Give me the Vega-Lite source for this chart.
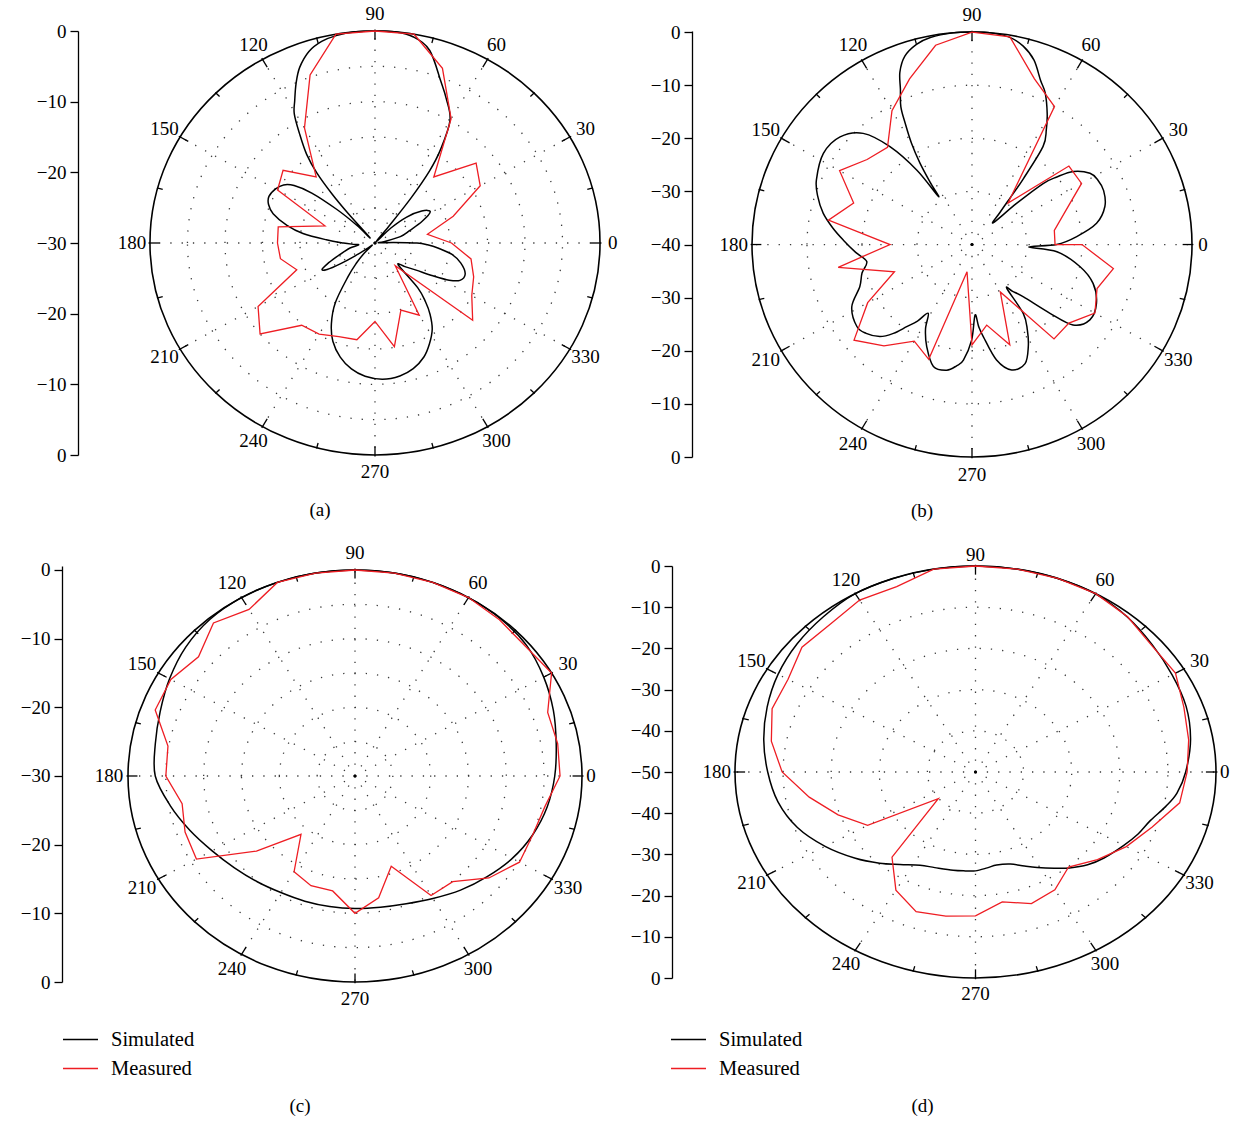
{
"$schema": "https://vega.github.io/schema/vega-lite/v6.json",
"background": "white",
"padding": {"left": 20, "top": 5, "right": 2, "bottom": 5},
"datasets": {
"spokes": [{"ang":0},{"ang":30},{"ang":60},{"ang":90},{"ang":120},{"ang":150},{"ang":180},{"ang":210},{"ang":240},{"ang":270},{"ang":300},{"ang":330}],
"minor": [{"ang":15},{"ang":45},{"ang":75},{"ang":105},{"ang":135},{"ang":165},{"ang":195},{"ang":225},{"ang":255},{"ang":285},{"ang":315},{"ang":345}],
"rings": [{"p":"a","lvl":0},{"p":"a","lvl":-5},{"p":"a","lvl":-10},{"p":"a","lvl":-15},{"p":"a","lvl":-20},{"p":"a","lvl":-25},
{"p":"b","lvl":0},{"p":"b","lvl":-10},{"p":"b","lvl":-20},{"p":"b","lvl":-30},
{"p":"c","lvl":0},{"p":"c","lvl":-5},{"p":"c","lvl":-10},{"p":"c","lvl":-15},{"p":"c","lvl":-20},{"p":"c","lvl":-25},
{"p":"d","lvl":0},{"p":"d","lvl":-10},{"p":"d","lvl":-20},{"p":"d","lvl":-30},{"p":"d","lvl":-40}],
"curves": [
{"p":"a","s":"Simulated","ang":0,"db":-24.4},{"p":"a","s":"Simulated","ang":2,"db":-27.5},{"p":"a","s":"Simulated","ang":4,"db":-29.5},{"p":"a","s":"Simulated","ang":9,"db":-28.8},{"p":"a","s":"Simulated","ang":15,"db":-26.5},{"p":"a","s":"Simulated","ang":21,"db":-25},{"p":"a","s":"Simulated","ang":26,"db":-23},{"p":"a","s":"Simulated","ang":31,"db":-21.4},{"p":"a","s":"Simulated","ang":36,"db":-22.3},{"p":"a","s":"Simulated","ang":41,"db":-24.4},{"p":"a","s":"Simulated","ang":45,"db":-27},{"p":"a","s":"Simulated","ang":49,"db":-29.8},{"p":"a","s":"Simulated","ang":52,"db":-27},{"p":"a","s":"Simulated","ang":53,"db":-22},{"p":"a","s":"Simulated","ang":54.5,"db":-17.5},{"p":"a","s":"Simulated","ang":56.5,"db":-14.2},{"p":"a","s":"Simulated","ang":60,"db":-10},{"p":"a","s":"Simulated","ang":65,"db":-7.5},{"p":"a","s":"Simulated","ang":69,"db":-5.5},{"p":"a","s":"Simulated","ang":75,"db":-1.8},{"p":"a","s":"Simulated","ang":80,"db":-0.4},{"p":"a","s":"Simulated","ang":85,"db":0},{"p":"a","s":"Simulated","ang":90,"db":0},{"p":"a","s":"Simulated","ang":95,"db":0},{"p":"a","s":"Simulated","ang":100,"db":-0.2},{"p":"a","s":"Simulated","ang":104,"db":-0.6},{"p":"a","s":"Simulated","ang":108,"db":-1.5},{"p":"a","s":"Simulated","ang":112,"db":-3.2},{"p":"a","s":"Simulated","ang":115,"db":-5.1},{"p":"a","s":"Simulated","ang":118,"db":-7.2},{"p":"a","s":"Simulated","ang":120.5,"db":-8.8},{"p":"a","s":"Simulated","ang":123,"db":-11.5},{"p":"a","s":"Simulated","ang":126,"db":-14.5},{"p":"a","s":"Simulated","ang":128,"db":-17.4},{"p":"a","s":"Simulated","ang":129.5,"db":-21},{"p":"a","s":"Simulated","ang":130.5,"db":-24.5},{"p":"a","s":"Simulated","ang":132,"db":-29},{"p":"a","s":"Simulated","ang":134,"db":-26.5},{"p":"a","s":"Simulated","ang":137,"db":-23},{"p":"a","s":"Simulated","ang":140,"db":-19},{"p":"a","s":"Simulated","ang":143,"db":-16.5},{"p":"a","s":"Simulated","ang":146,"db":-15.3},{"p":"a","s":"Simulated","ang":150,"db":-14.7},{"p":"a","s":"Simulated","ang":155,"db":-14.4},{"p":"a","s":"Simulated","ang":159,"db":-14.8},{"p":"a","s":"Simulated","ang":163,"db":-15.8},{"p":"a","s":"Simulated","ang":168,"db":-18},{"p":"a","s":"Simulated","ang":172,"db":-20.3},{"p":"a","s":"Simulated","ang":176,"db":-23.5},{"p":"a","s":"Simulated","ang":180,"db":-25.8},{"p":"a","s":"Simulated","ang":184,"db":-27.2},{"p":"a","s":"Simulated","ang":187,"db":-27.8},{"p":"a","s":"Simulated","ang":192,"db":-26.6},{"p":"a","s":"Simulated","ang":197,"db":-25.6},{"p":"a","s":"Simulated","ang":201,"db":-24.5},{"p":"a","s":"Simulated","ang":205,"db":-23},{"p":"a","s":"Simulated","ang":208,"db":-22},{"p":"a","s":"Simulated","ang":210.5,"db":-22.6},{"p":"a","s":"Simulated","ang":212.5,"db":-24.5},{"p":"a","s":"Simulated","ang":214.5,"db":-26.8},{"p":"a","s":"Simulated","ang":217,"db":-28.8},{"p":"a","s":"Simulated","ang":221,"db":-29.5},{"p":"a","s":"Simulated","ang":225,"db":-28},{"p":"a","s":"Simulated","ang":229,"db":-26.2},{"p":"a","s":"Simulated","ang":233,"db":-24},{"p":"a","s":"Simulated","ang":238,"db":-20},{"p":"a","s":"Simulated","ang":243,"db":-17.2},{"p":"a","s":"Simulated","ang":248,"db":-15},{"p":"a","s":"Simulated","ang":254,"db":-13.2},{"p":"a","s":"Simulated","ang":260,"db":-11.9},{"p":"a","s":"Simulated","ang":266,"db":-11.1},{"p":"a","s":"Simulated","ang":273,"db":-10.7},{"p":"a","s":"Simulated","ang":280,"db":-10.9},{"p":"a","s":"Simulated","ang":286,"db":-11.5},{"p":"a","s":"Simulated","ang":292,"db":-12.6},{"p":"a","s":"Simulated","ang":297,"db":-14},{"p":"a","s":"Simulated","ang":302,"db":-15.6},{"p":"a","s":"Simulated","ang":306,"db":-17.5},{"p":"a","s":"Simulated","ang":309,"db":-19.3},{"p":"a","s":"Simulated","ang":312,"db":-21.5},{"p":"a","s":"Simulated","ang":315,"db":-25.6},{"p":"a","s":"Simulated","ang":320,"db":-24.8},{"p":"a","s":"Simulated","ang":325,"db":-23.3},{"p":"a","s":"Simulated","ang":329,"db":-21},{"p":"a","s":"Simulated","ang":332,"db":-18.8},{"p":"a","s":"Simulated","ang":335,"db":-17.5},{"p":"a","s":"Simulated","ang":340,"db":-17.2},{"p":"a","s":"Simulated","ang":346,"db":-18.2},{"p":"a","s":"Simulated","ang":351,"db":-19.6},{"p":"a","s":"Simulated","ang":355,"db":-21.5},{"p":"a","s":"Simulated","ang":358,"db":-23},
{"p":"a","s":"Measured","ang":0,"db":-19.8},{"p":"a","s":"Measured","ang":10,"db":-22.9},{"p":"a","s":"Measured","ang":20,"db":-18.9},{"p":"a","s":"Measured","ang":30,"db":-13.8},{"p":"a","s":"Measured","ang":40,"db":-12.4},{"p":"a","s":"Measured","ang":50,"db":-17.8},{"p":"a","s":"Measured","ang":60,"db":-9.7},{"p":"a","s":"Measured","ang":70,"db":-3.7},{"p":"a","s":"Measured","ang":80,"db":0},{"p":"a","s":"Measured","ang":90,"db":0},{"p":"a","s":"Measured","ang":100,"db":0},{"p":"a","s":"Measured","ang":110,"db":-4.7},{"p":"a","s":"Measured","ang":120,"db":-11.2},{"p":"a","s":"Measured","ang":130,"db":-17.8},{"p":"a","s":"Measured","ang":140,"db":-14},{"p":"a","s":"Measured","ang":150,"db":-15},{"p":"a","s":"Measured","ang":160,"db":-22.9},{"p":"a","s":"Measured","ang":170,"db":-16.9},{"p":"a","s":"Measured","ang":180,"db":-17},{"p":"a","s":"Measured","ang":190,"db":-17.2},{"p":"a","s":"Measured","ang":200,"db":-18.9},{"p":"a","s":"Measured","ang":210,"db":-12},{"p":"a","s":"Measured","ang":220,"db":-10},{"p":"a","s":"Measured","ang":230,"db":-14.8},{"p":"a","s":"Measured","ang":240,"db":-15.1},{"p":"a","s":"Measured","ang":250,"db":-15.9},{"p":"a","s":"Measured","ang":260,"db":-16.1},{"p":"a","s":"Measured","ang":270,"db":-18.9},{"p":"a","s":"Measured","ang":280,"db":-15.1},{"p":"a","s":"Measured","ang":290,"db":-19.9},{"p":"a","s":"Measured","ang":300,"db":-18.2},{"p":"a","s":"Measured","ang":310,"db":-25.8},{"p":"a","s":"Measured","ang":320,"db":-13},{"p":"a","s":"Measured","ang":330,"db":-15.1},{"p":"a","s":"Measured","ang":340,"db":-16},{"p":"a","s":"Measured","ang":350,"db":-17},
{"p":"b","s":"Simulated","ang":0,"db":-24.6},{"p":"b","s":"Simulated","ang":4.5,"db":-20.9},{"p":"b","s":"Simulated","ang":10,"db":-17},{"p":"b","s":"Simulated","ang":16.5,"db":-14.8},{"p":"b","s":"Simulated","ang":23,"db":-14},{"p":"b","s":"Simulated","ang":28,"db":-14.1},{"p":"b","s":"Simulated","ang":32,"db":-14.7},{"p":"b","s":"Simulated","ang":36.7,"db":-17},{"p":"b","s":"Simulated","ang":39.5,"db":-20},{"p":"b","s":"Simulated","ang":41.6,"db":-22.7},{"p":"b","s":"Simulated","ang":43.7,"db":-28.8},{"p":"b","s":"Simulated","ang":46.7,"db":-34.4},{"p":"b","s":"Simulated","ang":50,"db":-32},{"p":"b","s":"Simulated","ang":52,"db":-28},{"p":"b","s":"Simulated","ang":53,"db":-24.5},{"p":"b","s":"Simulated","ang":55,"db":-17.5},{"p":"b","s":"Simulated","ang":58,"db":-14.5},{"p":"b","s":"Simulated","ang":61,"db":-11.8},{"p":"b","s":"Simulated","ang":65,"db":-8.5},{"p":"b","s":"Simulated","ang":68,"db":-6.7},{"p":"b","s":"Simulated","ang":72,"db":-3.5},{"p":"b","s":"Simulated","ang":76,"db":-1.5},{"p":"b","s":"Simulated","ang":80,"db":-0.4},{"p":"b","s":"Simulated","ang":85,"db":0},{"p":"b","s":"Simulated","ang":90,"db":0},{"p":"b","s":"Simulated","ang":95,"db":0},{"p":"b","s":"Simulated","ang":101,"db":-0.3},{"p":"b","s":"Simulated","ang":105,"db":-1},{"p":"b","s":"Simulated","ang":109,"db":-2.5},{"p":"b","s":"Simulated","ang":112,"db":-5},{"p":"b","s":"Simulated","ang":114,"db":-8},{"p":"b","s":"Simulated","ang":116.5,"db":-11},{"p":"b","s":"Simulated","ang":118,"db":-14.1},{"p":"b","s":"Simulated","ang":120,"db":-18},{"p":"b","s":"Simulated","ang":121.7,"db":-22},{"p":"b","s":"Simulated","ang":123,"db":-26},{"p":"b","s":"Simulated","ang":124,"db":-29.1},{"p":"b","s":"Simulated","ang":125.6,"db":-22.8},{"p":"b","s":"Simulated","ang":129,"db":-16.3},{"p":"b","s":"Simulated","ang":133.4,"db":-11.2},{"p":"b","s":"Simulated","ang":139.8,"db":-8.6},{"p":"b","s":"Simulated","ang":147.6,"db":-8},{"p":"b","s":"Simulated","ang":156.7,"db":-9.2},{"p":"b","s":"Simulated","ang":162,"db":-10.5},{"p":"b","s":"Simulated","ang":167.7,"db":-12.3},{"p":"b","s":"Simulated","ang":173,"db":-14.5},{"p":"b","s":"Simulated","ang":178,"db":-16.6},{"p":"b","s":"Simulated","ang":184,"db":-18.8},{"p":"b","s":"Simulated","ang":189.5,"db":-20.6},{"p":"b","s":"Simulated","ang":195,"db":-19.3},{"p":"b","s":"Simulated","ang":201.3,"db":-18.1},{"p":"b","s":"Simulated","ang":208.2,"db":-15.2},{"p":"b","s":"Simulated","ang":216.4,"db":-14},{"p":"b","s":"Simulated","ang":221,"db":-14.5},{"p":"b","s":"Simulated","ang":226,"db":-15.9},{"p":"b","s":"Simulated","ang":229.5,"db":-18},{"p":"b","s":"Simulated","ang":232.5,"db":-20.5},{"p":"b","s":"Simulated","ang":235.5,"db":-22.5},{"p":"b","s":"Simulated","ang":238.4,"db":-24.8},{"p":"b","s":"Simulated","ang":242,"db":-22},{"p":"b","s":"Simulated","ang":246.8,"db":-19.1},{"p":"b","s":"Simulated","ang":253,"db":-16},{"p":"b","s":"Simulated","ang":259,"db":-15.9},{"p":"b","s":"Simulated","ang":263,"db":-17},{"p":"b","s":"Simulated","ang":265.9,"db":-18.2},{"p":"b","s":"Simulated","ang":269.8,"db":-22},{"p":"b","s":"Simulated","ang":272.4,"db":-26.7},{"p":"b","s":"Simulated","ang":274.5,"db":-24.5},{"p":"b","s":"Simulated","ang":276.8,"db":-22.5},{"p":"b","s":"Simulated","ang":281.6,"db":-17.8},{"p":"b","s":"Simulated","ang":287,"db":-15.3},{"p":"b","s":"Simulated","ang":293.3,"db":-15.6},{"p":"b","s":"Simulated","ang":298,"db":-18.2},{"p":"b","s":"Simulated","ang":302,"db":-21},{"p":"b","s":"Simulated","ang":305.7,"db":-24},{"p":"b","s":"Simulated","ang":307.5,"db":-29.6},{"p":"b","s":"Simulated","ang":310,"db":-28.5},{"p":"b","s":"Simulated","ang":313.5,"db":-26.4},{"p":"b","s":"Simulated","ang":317.6,"db":-20.8},{"p":"b","s":"Simulated","ang":320.5,"db":-16.2},{"p":"b","s":"Simulated","ang":326.5,"db":-14.3},{"p":"b","s":"Simulated","ang":333.9,"db":-14.8},{"p":"b","s":"Simulated","ang":341.6,"db":-16.8},{"p":"b","s":"Simulated","ang":348,"db":-19.9},{"p":"b","s":"Simulated","ang":355,"db":-24.5},{"p":"b","s":"Simulated","ang":357.5,"db":-29.7},
{"p":"b","s":"Measured","ang":0,"db":-24.9},{"p":"b","s":"Measured","ang":10,"db":-24.8},{"p":"b","s":"Measured","ang":20,"db":-22},{"p":"b","s":"Measured","ang":30,"db":-17},{"p":"b","s":"Measured","ang":40,"db":-17},{"p":"b","s":"Measured","ang":50,"db":-29.8},{"p":"b","s":"Measured","ang":60,"db":-10},{"p":"b","s":"Measured","ang":70,"db":-6.8},{"p":"b","s":"Measured","ang":80,"db":-0.3},{"p":"b","s":"Measured","ang":90,"db":0},{"p":"b","s":"Measured","ang":100,"db":-1.9},{"p":"b","s":"Measured","ang":110,"db":-6.8},{"p":"b","s":"Measured","ang":120,"db":-10.9},{"p":"b","s":"Measured","ang":130,"db":-16.1},{"p":"b","s":"Measured","ang":140,"db":-15.1},{"p":"b","s":"Measured","ang":150,"db":-12.2},{"p":"b","s":"Measured","ang":160,"db":-17.1},{"p":"b","s":"Measured","ang":170,"db":-13.5},{"p":"b","s":"Measured","ang":180,"db":-25.1},{"p":"b","s":"Measured","ang":190,"db":-15.3},{"p":"b","s":"Measured","ang":200,"db":-25},{"p":"b","s":"Measured","ang":210,"db":-18.1},{"p":"b","s":"Measured","ang":220,"db":-12},{"p":"b","s":"Measured","ang":230,"db":-15.1},{"p":"b","s":"Measured","ang":240,"db":-19},{"p":"b","s":"Measured","ang":250,"db":-17},{"p":"b","s":"Measured","ang":260,"db":-34.8},{"p":"b","s":"Measured","ang":270,"db":-21.1},{"p":"b","s":"Measured","ang":280,"db":-24.6},{"p":"b","s":"Measured","ang":290,"db":-19.9},{"p":"b","s":"Measured","ang":300,"db":-29.7},{"p":"b","s":"Measured","ang":310,"db":-16.8},{"p":"b","s":"Measured","ang":320,"db":-17},{"p":"b","s":"Measured","ang":330,"db":-14.2},{"p":"b","s":"Measured","ang":340,"db":-15.8},{"p":"b","s":"Measured","ang":350,"db":-13.9},{"p":"b","s":"Measured","ang":360,"db":-20},
{"p":"c","s":"Simulated","ang":0,"db":-3.6},{"p":"c","s":"Simulated","ang":10,"db":-3},{"p":"c","s":"Simulated","ang":20,"db":-2.1},{"p":"c","s":"Simulated","ang":30,"db":-1.2},{"p":"c","s":"Simulated","ang":40,"db":-0.4},{"p":"c","s":"Simulated","ang":50,"db":-0.1},{"p":"c","s":"Simulated","ang":60,"db":0},{"p":"c","s":"Simulated","ang":70,"db":0},{"p":"c","s":"Simulated","ang":80,"db":0},{"p":"c","s":"Simulated","ang":90,"db":0},{"p":"c","s":"Simulated","ang":100,"db":0},{"p":"c","s":"Simulated","ang":110,"db":0},{"p":"c","s":"Simulated","ang":120,"db":0},{"p":"c","s":"Simulated","ang":130,"db":-0.2},{"p":"c","s":"Simulated","ang":140,"db":-0.8},{"p":"c","s":"Simulated","ang":150,"db":-1.7},{"p":"c","s":"Simulated","ang":160,"db":-2.6},{"p":"c","s":"Simulated","ang":170,"db":-3.2},{"p":"c","s":"Simulated","ang":180,"db":-3.6},{"p":"c","s":"Simulated","ang":190,"db":-5.2},{"p":"c","s":"Simulated","ang":200,"db":-6.8},{"p":"c","s":"Simulated","ang":210,"db":-8.2},{"p":"c","s":"Simulated","ang":220,"db":-9.2},{"p":"c","s":"Simulated","ang":230,"db":-9.9},{"p":"c","s":"Simulated","ang":240,"db":-10.4},{"p":"c","s":"Simulated","ang":250,"db":-10.6},{"p":"c","s":"Simulated","ang":260,"db":-10.7},{"p":"c","s":"Simulated","ang":270,"db":-10.7},{"p":"c","s":"Simulated","ang":280,"db":-10.6},{"p":"c","s":"Simulated","ang":290,"db":-10.2},{"p":"c","s":"Simulated","ang":300,"db":-9.4},{"p":"c","s":"Simulated","ang":310,"db":-8.3},{"p":"c","s":"Simulated","ang":320,"db":-7.2},{"p":"c","s":"Simulated","ang":330,"db":-6},{"p":"c","s":"Simulated","ang":340,"db":-5},{"p":"c","s":"Simulated","ang":350,"db":-4.2},
{"p":"c","s":"Measured","ang":0,"db":-2.9},{"p":"c","s":"Measured","ang":10,"db":-2.8},{"p":"c","s":"Measured","ang":20,"db":-2.9},{"p":"c","s":"Measured","ang":30,"db":0},{"p":"c","s":"Measured","ang":40,"db":-0.6},{"p":"c","s":"Measured","ang":50,"db":-0.3},{"p":"c","s":"Measured","ang":60,"db":0},{"p":"c","s":"Measured","ang":70,"db":0},{"p":"c","s":"Measured","ang":80,"db":0},{"p":"c","s":"Measured","ang":90,"db":0},{"p":"c","s":"Measured","ang":100,"db":0},{"p":"c","s":"Measured","ang":110,"db":0},{"p":"c","s":"Measured","ang":120,"db":-2},{"p":"c","s":"Measured","ang":130,"db":-0.9},{"p":"c","s":"Measured","ang":140,"db":-3},{"p":"c","s":"Measured","ang":150,"db":-1.9},{"p":"c","s":"Measured","ang":160,"db":-1.9},{"p":"c","s":"Measured","ang":170,"db":-4.9},{"p":"c","s":"Measured","ang":180,"db":-5},{"p":"c","s":"Measured","ang":190,"db":-6.8},{"p":"c","s":"Measured","ang":200,"db":-6.1},{"p":"c","s":"Measured","ang":210,"db":-5.8},{"p":"c","s":"Measured","ang":220,"db":-13},{"p":"c","s":"Measured","ang":230,"db":-18.9},{"p":"c","s":"Measured","ang":240,"db":-13.9},{"p":"c","s":"Measured","ang":250,"db":-13},{"p":"c","s":"Measured","ang":260,"db":-13},{"p":"c","s":"Measured","ang":270,"db":-10},{"p":"c","s":"Measured","ang":280,"db":-12},{"p":"c","s":"Measured","ang":290,"db":-16},{"p":"c","s":"Measured","ang":300,"db":-9.9},{"p":"c","s":"Measured","ang":310,"db":-9.9},{"p":"c","s":"Measured","ang":320,"db":-6.9},{"p":"c","s":"Measured","ang":330,"db":-4.9},{"p":"c","s":"Measured","ang":340,"db":-5},{"p":"c","s":"Measured","ang":350,"db":-4.5},
{"p":"d","s":"Simulated","ang":0,"db":-6.3},{"p":"d","s":"Simulated","ang":10,"db":-4.6},{"p":"d","s":"Simulated","ang":20,"db":-3.4},{"p":"d","s":"Simulated","ang":30,"db":-2.8},{"p":"d","s":"Simulated","ang":40,"db":-2},{"p":"d","s":"Simulated","ang":50,"db":-0.9},{"p":"d","s":"Simulated","ang":60,"db":-0.1},{"p":"d","s":"Simulated","ang":70,"db":0},{"p":"d","s":"Simulated","ang":80,"db":0},{"p":"d","s":"Simulated","ang":90,"db":0},{"p":"d","s":"Simulated","ang":100,"db":0},{"p":"d","s":"Simulated","ang":110,"db":0},{"p":"d","s":"Simulated","ang":120,"db":0},{"p":"d","s":"Simulated","ang":130,"db":-0.8},{"p":"d","s":"Simulated","ang":140,"db":-1.6},{"p":"d","s":"Simulated","ang":150,"db":-2.6},{"p":"d","s":"Simulated","ang":160,"db":-3.9},{"p":"d","s":"Simulated","ang":170,"db":-5.3},{"p":"d","s":"Simulated","ang":180,"db":-6.8},{"p":"d","s":"Simulated","ang":190,"db":-8.3},{"p":"d","s":"Simulated","ang":200,"db":-10.6},{"p":"d","s":"Simulated","ang":210,"db":-13.9},{"p":"d","s":"Simulated","ang":220,"db":-17.4},{"p":"d","s":"Simulated","ang":228,"db":-20.2},{"p":"d","s":"Simulated","ang":235,"db":-22.6},{"p":"d","s":"Simulated","ang":243,"db":-24.6},{"p":"d","s":"Simulated","ang":250,"db":-25.3},{"p":"d","s":"Simulated","ang":259,"db":-25.7},{"p":"d","s":"Simulated","ang":265,"db":-25.9},{"p":"d","s":"Simulated","ang":270,"db":-26},{"p":"d","s":"Simulated","ang":276,"db":-26.6},{"p":"d","s":"Simulated","ang":281,"db":-27},{"p":"d","s":"Simulated","ang":288,"db":-26.5},{"p":"d","s":"Simulated","ang":294,"db":-25},{"p":"d","s":"Simulated","ang":299,"db":-23.5},{"p":"d","s":"Simulated","ang":305,"db":-21.5},{"p":"d","s":"Simulated","ang":310,"db":-19.6},{"p":"d","s":"Simulated","ang":316,"db":-17.6},{"p":"d","s":"Simulated","ang":322,"db":-16.1},{"p":"d","s":"Simulated","ang":330,"db":-14.4},{"p":"d","s":"Simulated","ang":336,"db":-13},{"p":"d","s":"Simulated","ang":342,"db":-11.8},{"p":"d","s":"Simulated","ang":348,"db":-9.6},{"p":"d","s":"Simulated","ang":353,"db":-7.8},
{"p":"d","s":"Measured","ang":0,"db":-6},{"p":"d","s":"Measured","ang":10,"db":-5},{"p":"d","s":"Measured","ang":20,"db":-3.9},{"p":"d","s":"Measured","ang":30,"db":-2},{"p":"d","s":"Measured","ang":40,"db":-2.2},{"p":"d","s":"Measured","ang":50,"db":-0.8},{"p":"d","s":"Measured","ang":60,"db":0},{"p":"d","s":"Measured","ang":70,"db":0},{"p":"d","s":"Measured","ang":80,"db":0},{"p":"d","s":"Measured","ang":90,"db":0},{"p":"d","s":"Measured","ang":100,"db":0},{"p":"d","s":"Measured","ang":110,"db":-2.1},{"p":"d","s":"Measured","ang":120,"db":-1.8},{"p":"d","s":"Measured","ang":130,"db":-3.1},{"p":"d","s":"Measured","ang":140,"db":-2.9},{"p":"d","s":"Measured","ang":150,"db":-5},{"p":"d","s":"Measured","ang":160,"db":-5},{"p":"d","s":"Measured","ang":170,"db":-6.9},{"p":"d","s":"Measured","ang":180,"db":-9.8},{"p":"d","s":"Measured","ang":190,"db":-14.9},{"p":"d","s":"Measured","ang":200,"db":-19.6},{"p":"d","s":"Measured","ang":210,"db":-24.1},{"p":"d","s":"Measured","ang":220,"db":-39.9},{"p":"d","s":"Measured","ang":230,"db":-23},{"p":"d","s":"Measured","ang":240,"db":-16.9},{"p":"d","s":"Measured","ang":250,"db":-13.9},{"p":"d","s":"Measured","ang":260,"db":-14.5},{"p":"d","s":"Measured","ang":270,"db":-15.1},{"p":"d","s":"Measured","ang":280,"db":-18},{"p":"d","s":"Measured","ang":290,"db":-16},{"p":"d","s":"Measured","ang":300,"db":-17},{"p":"d","s":"Measured","ang":310,"db":-19.9},{"p":"d","s":"Measured","ang":320,"db":-16.9},{"p":"d","s":"Measured","ang":330,"db":-13.8},{"p":"d","s":"Measured","ang":340,"db":-10.9},{"p":"d","s":"Measured","ang":350,"db":-6.9}
]
},
"columns": 2,
"align": "each",
"bounds": "flush",
"spacing": {"row": 109, "column": 135},
"resolve": {"scale": {"color": "independent", "size": "independent"}, "legend": {"color": "independent"}},
"concat": [
{"width": 472, "height": 424,
"title": {"text": "(a)", "orient": "bottom", "anchor": "middle", "baseline": "middle", "offset": 28, "dx": -44},
"layer": [
{"data": {"name": "rings"}, "transform": [{"filter": "datum.p == 'a' && datum.lvl < 0"}, {"calculate": "datum.lvl + 30", "as": "rr"}, {"calculate": "0", "as": "zx"}],
"mark": {"type": "point", "shape": "M -1 0 A 1 0.9422 0 1 1 1 0 A 1 0.9422 0 1 1 -1 0 Z", "filled": false, "color": "#3a3a3a", "strokeWidth": 1.3, "strokeDash": [1.3, 10], "opacity": 1},
"encoding": {
"x": {"field": "zx", "type": "quantitative", "scale": {"domain": [-32.93, 30], "nice": false, "zero": false}, "axis": null},
"y": {"field": "zx", "type": "quantitative", "scale": {"domain": [-30, 30], "nice": false, "zero": false},
"axis": {"orient": "left", "offset": 50, "title": null, "grid": false, "values": [-30,-27.5,-25,-22.5,-20,-17.5,-15,-12.5,-10,-7.5,-5,-2.5,0,2.5,5,7.5,10,12.5,15,17.5,20,22.5,25,27.5,30],
"labelExpr": "datum.value % 10 == 0 ? format(abs(datum.value) - 30, 'd') : ''",
"tickSize": {"condition": {"test": "datum.value % 10 == 0", "value": 8}, "value": 4},
"domainColor": "black", "domainWidth": 1.3, "tickColor": "black", "tickWidth": 1.3, "labelFont": "Liberation Serif", "labelFontSize": 19, "labelColor": "black", "labelPadding": 4, "labelOverlap": false, "labelFlush": false}},
"size": {"field": "rr", "type": "quantitative", "scale": {"type": "pow", "exponent": 2, "domain": [0, 30], "range": [0, 202545]}, "legend": null}}},
{"data": {"name": "rings"}, "transform": [{"filter": "datum.p == 'a' && datum.lvl == 0"}, {"calculate": "datum.lvl + 30", "as": "rr"}, {"calculate": "0", "as": "zx"}],
"mark": {"type": "point", "shape": "M -1 0 A 1 0.9422 0 1 1 1 0 A 1 0.9422 0 1 1 -1 0 Z", "filled": false, "color": "black", "strokeWidth": 1.6, "opacity": 1},
"encoding": {"x": {"field": "zx", "type": "quantitative", "axis": null}, "y": {"field": "zx", "type": "quantitative"}, "size": {"field": "rr", "type": "quantitative", "legend": null}}},
{"data": {"name": "spokes"}, "transform": [{"calculate": "0", "as": "zx"}, {"calculate": "30*cos(datum.ang*PI/180)", "as": "ex"}, {"calculate": "30*sin(datum.ang*PI/180)", "as": "ey"}],
"mark": {"type": "rule", "color": "#3a3a3a", "strokeWidth": 1.3, "strokeDash": [1.3, 10]},
"encoding": {"x": {"field": "zx", "type": "quantitative", "axis": null}, "y": {"field": "zx", "type": "quantitative"}, "x2": {"field": "ex"}, "y2": {"field": "ey"}}},
{"data": {"name": "spokes"}, "transform": [{"calculate": "30.2*cos(datum.ang*PI/180)", "as": "ox"}, {"calculate": "30.2*sin(datum.ang*PI/180)", "as": "oy"}, {"calculate": "28.75*cos(datum.ang*PI/180)", "as": "ix"}, {"calculate": "28.75*sin(datum.ang*PI/180)", "as": "iy"}],
"mark": {"type": "rule", "color": "black", "strokeWidth": 1.3},
"encoding": {"x": {"field": "ox", "type": "quantitative", "axis": null}, "y": {"field": "oy", "type": "quantitative"}, "x2": {"field": "ix"}, "y2": {"field": "iy"}}},
{"data": {"name": "minor"}, "transform": [{"calculate": "30.1*cos(datum.ang*PI/180)", "as": "ox"}, {"calculate": "30.1*sin(datum.ang*PI/180)", "as": "oy"}, {"calculate": "29.3*cos(datum.ang*PI/180)", "as": "ix"}, {"calculate": "29.3*sin(datum.ang*PI/180)", "as": "iy"}],
"mark": {"type": "rule", "color": "black", "strokeWidth": 1.3},
"encoding": {"x": {"field": "ox", "type": "quantitative", "axis": null}, "y": {"field": "oy", "type": "quantitative"}, "x2": {"field": "ix"}, "y2": {"field": "iy"}}},
{"data": {"name": "spokes"}, "transform": [{"calculate": "datum.ang == 0 ? 31.7 : 32.4", "as": "lr"}, {"calculate": "datum.lr*cos(datum.ang*PI/180)", "as": "lx"}, {"calculate": "datum.lr*sin(datum.ang*PI/180)", "as": "ly"}],
"mark": {"type": "text", "font": "Liberation Serif", "fontSize": 19, "color": "black", "align": "center", "baseline": "middle"},
"encoding": {"x": {"field": "lx", "type": "quantitative", "axis": null}, "y": {"field": "ly", "type": "quantitative"}, "text": {"field": "ang", "type": "nominal"}}},
{"data": {"name": "rings"}, "transform": [{"filter": "datum.p == 'a' && datum.lvl == 0"}, {"calculate": "0", "as": "zx"}],
"mark": {"type": "circle", "color": "black", "size": 10, "opacity": 1},
"encoding": {"x": {"field": "zx", "type": "quantitative", "axis": null}, "y": {"field": "zx", "type": "quantitative"}}},
{"data": {"name": "curves"}, "transform": [{"filter": "datum.p == 'a' && datum.s == 'Simulated'"}, {"calculate": "max(0, datum.db + 30)", "as": "rr"}, {"calculate": "datum.rr*cos(datum.ang*PI/180)", "as": "cx"}, {"calculate": "datum.rr*sin(datum.ang*PI/180)", "as": "cy"}],
"mark": {"type": "line", "interpolate": "cardinal-closed", "strokeWidth": 1.5},
"encoding": {"x": {"field": "cx", "type": "quantitative", "axis": null}, "y": {"field": "cy", "type": "quantitative"}, "order": {"field": "ang", "type": "quantitative"},
"color": {"field": "s", "type": "nominal", "scale": {"domain": ["Simulated", "Measured"], "range": ["#000000", "#ee1d23"]}, "legend": null}}},
{"data": {"name": "curves"}, "transform": [{"filter": "datum.p == 'a' && datum.s == 'Measured'"}, {"calculate": "max(0, datum.db + 30)", "as": "rr"}, {"calculate": "datum.rr*cos(datum.ang*PI/180)", "as": "cx"}, {"calculate": "datum.rr*sin(datum.ang*PI/180)", "as": "cy"}],
"mark": {"type": "line", "interpolate": "linear-closed", "strokeWidth": 1.3},
"encoding": {"x": {"field": "cx", "type": "quantitative", "axis": null}, "y": {"field": "cy", "type": "quantitative"}, "order": {"field": "ang", "type": "quantitative"},
"color": {"field": "s", "type": "nominal", "legend": null}}}
]},
{"width": 457, "height": 426,
"title": {"text": "(b)", "orient": "bottom", "anchor": "middle", "baseline": "middle", "offset": 26, "dx": -41.5},
"layer": [
{"data": {"name": "rings"}, "transform": [{"filter": "datum.p == 'b' && datum.lvl < 0"}, {"calculate": "datum.lvl + 40", "as": "rr"}, {"calculate": "0", "as": "zx"}],
"mark": {"type": "point", "shape": "M -1 0 A 1 0.9658 0 1 1 1 0 A 1 0.9658 0 1 1 -1 0 Z", "filled": false, "color": "#3a3a3a", "strokeWidth": 1.3, "strokeDash": [1.3, 10], "opacity": 1},
"encoding": {
"x": {"field": "zx", "type": "quantitative", "scale": {"domain": [-43.09, 40], "nice": false, "zero": false}, "axis": null},
"y": {"field": "zx", "type": "quantitative", "scale": {"domain": [-40, 40.2], "nice": false, "zero": false},
"axis": {"orient": "left", "offset": 43, "title": null, "grid": false, "values": [-40,-35,-30,-25,-20,-15,-10,-5,0,5,10,15,20,25,30,35,40],
"labelExpr": "datum.value % 10 == 0 ? format(abs(datum.value) - 40, 'd') : ''",
"tickSize": {"condition": {"test": "datum.value % 10 == 0", "value": 8}, "value": 4},
"domainColor": "black", "domainWidth": 1.3, "tickColor": "black", "tickWidth": 1.3, "labelFont": "Liberation Serif", "labelFontSize": 19, "labelColor": "black", "labelPadding": 4, "labelOverlap": false, "labelFlush": false}},
"size": {"field": "rr", "type": "quantitative", "scale": {"type": "pow", "exponent": 2, "domain": [0, 40], "range": [0, 193600]}, "legend": null}}},
{"data": {"name": "rings"}, "transform": [{"filter": "datum.p == 'b' && datum.lvl == 0"}, {"calculate": "datum.lvl + 40", "as": "rr"}, {"calculate": "0", "as": "zx"}],
"mark": {"type": "point", "shape": "M -1 0 A 1 0.9658 0 1 1 1 0 A 1 0.9658 0 1 1 -1 0 Z", "filled": false, "color": "black", "strokeWidth": 1.6, "opacity": 1},
"encoding": {"x": {"field": "zx", "type": "quantitative", "axis": null}, "y": {"field": "zx", "type": "quantitative"}, "size": {"field": "rr", "type": "quantitative", "legend": null}}},
{"data": {"name": "spokes"}, "transform": [{"calculate": "0", "as": "zx"}, {"calculate": "40*cos(datum.ang*PI/180)", "as": "ex"}, {"calculate": "40*sin(datum.ang*PI/180)", "as": "ey"}],
"mark": {"type": "rule", "color": "#3a3a3a", "strokeWidth": 1.3, "strokeDash": [1.3, 10]},
"encoding": {"x": {"field": "zx", "type": "quantitative", "axis": null}, "y": {"field": "zx", "type": "quantitative"}, "x2": {"field": "ex"}, "y2": {"field": "ey"}}},
{"data": {"name": "spokes"}, "transform": [{"calculate": "40.25*cos(datum.ang*PI/180)", "as": "ox"}, {"calculate": "40.25*sin(datum.ang*PI/180)", "as": "oy"}, {"calculate": "38.3*cos(datum.ang*PI/180)", "as": "ix"}, {"calculate": "38.3*sin(datum.ang*PI/180)", "as": "iy"}],
"mark": {"type": "rule", "color": "black", "strokeWidth": 1.3},
"encoding": {"x": {"field": "ox", "type": "quantitative", "axis": null}, "y": {"field": "oy", "type": "quantitative"}, "x2": {"field": "ix"}, "y2": {"field": "iy"}}},
{"data": {"name": "minor"}, "transform": [{"calculate": "40.15*cos(datum.ang*PI/180)", "as": "ox"}, {"calculate": "40.15*sin(datum.ang*PI/180)", "as": "oy"}, {"calculate": "39.1*cos(datum.ang*PI/180)", "as": "ix"}, {"calculate": "39.1*sin(datum.ang*PI/180)", "as": "iy"}],
"mark": {"type": "rule", "color": "black", "strokeWidth": 1.3},
"encoding": {"x": {"field": "ox", "type": "quantitative", "axis": null}, "y": {"field": "oy", "type": "quantitative"}, "x2": {"field": "ix"}, "y2": {"field": "iy"}}},
{"data": {"name": "spokes"}, "transform": [{"calculate": "datum.ang == 0 ? 42.0 : 43.3", "as": "lr"}, {"calculate": "datum.lr*cos(datum.ang*PI/180)", "as": "lx"}, {"calculate": "datum.lr*sin(datum.ang*PI/180)", "as": "ly"}],
"mark": {"type": "text", "font": "Liberation Serif", "fontSize": 19, "color": "black", "align": "center", "baseline": "middle"},
"encoding": {"x": {"field": "lx", "type": "quantitative", "axis": null}, "y": {"field": "ly", "type": "quantitative"}, "text": {"field": "ang", "type": "nominal"}}},
{"data": {"name": "rings"}, "transform": [{"filter": "datum.p == 'b' && datum.lvl == 0"}, {"calculate": "0", "as": "zx"}],
"mark": {"type": "circle", "color": "black", "size": 10, "opacity": 1},
"encoding": {"x": {"field": "zx", "type": "quantitative", "axis": null}, "y": {"field": "zx", "type": "quantitative"}}},
{"data": {"name": "curves"}, "transform": [{"filter": "datum.p == 'b' && datum.s == 'Simulated'"}, {"calculate": "max(0, datum.db + 40)", "as": "rr"}, {"calculate": "datum.rr*cos(datum.ang*PI/180)", "as": "cx"}, {"calculate": "datum.rr*sin(datum.ang*PI/180)", "as": "cy"}],
"mark": {"type": "line", "interpolate": "cardinal-closed", "strokeWidth": 1.5},
"encoding": {"x": {"field": "cx", "type": "quantitative", "axis": null}, "y": {"field": "cy", "type": "quantitative"}, "order": {"field": "ang", "type": "quantitative"},
"color": {"field": "s", "type": "nominal", "scale": {"domain": ["Simulated", "Measured"], "range": ["#000000", "#ee1d23"]}, "legend": null}}},
{"data": {"name": "curves"}, "transform": [{"filter": "datum.p == 'b' && datum.s == 'Measured'"}, {"calculate": "max(0, datum.db + 40)", "as": "rr"}, {"calculate": "datum.rr*cos(datum.ang*PI/180)", "as": "cx"}, {"calculate": "datum.rr*sin(datum.ang*PI/180)", "as": "cy"}],
"mark": {"type": "line", "interpolate": "linear-closed", "strokeWidth": 1.3},
"encoding": {"x": {"field": "cx", "type": "quantitative", "axis": null}, "y": {"field": "cy", "type": "quantitative"}, "order": {"field": "ang", "type": "quantitative"},
"color": {"field": "s", "type": "nominal", "legend": null}}}
]},
{"width": 454, "height": 416,
"title": {"text": "(c)", "orient": "bottom", "anchor": "middle", "baseline": "middle", "offset": 27, "dx": -55},
"layer": [
{"data": {"name": "rings"}, "transform": [{"filter": "datum.p == 'c' && datum.lvl < 0"}, {"calculate": "datum.lvl + 30", "as": "rr"}, {"calculate": "0", "as": "zx"}],
"mark": {"type": "point", "shape": "M -1 0 A 1 0.9075 0 1 1 1 0 A 1 0.9075 0 1 1 -1 0 Z", "filled": false, "color": "#3a3a3a", "strokeWidth": 1.3, "strokeDash": [1.3, 10], "opacity": 1},
"encoding": {
"x": {"field": "zx", "type": "quantitative", "scale": {"domain": [-30, 30], "nice": false, "zero": false}, "axis": null},
"y": {"field": "zx", "type": "quantitative", "scale": {"domain": [-30, 30.58], "nice": false, "zero": false},
"axis": {"orient": "left", "offset": 66, "title": null, "grid": false, "values": [-30,-27.5,-25,-22.5,-20,-17.5,-15,-12.5,-10,-7.5,-5,-2.5,0,2.5,5,7.5,10,12.5,15,17.5,20,22.5,25,27.5,30],
"labelExpr": "datum.value % 10 == 0 ? format(abs(datum.value) - 30, 'd') : ''",
"tickSize": {"condition": {"test": "datum.value % 10 == 0", "value": 8}, "value": 4},
"domainColor": "black", "domainWidth": 1.3, "tickColor": "black", "tickWidth": 1.3, "labelFont": "Liberation Serif", "labelFontSize": 19, "labelColor": "black", "labelPadding": 4, "labelOverlap": false, "labelFlush": false}},
"size": {"field": "rr", "type": "quantitative", "scale": {"type": "pow", "exponent": 2, "domain": [0, 30], "range": [0, 206116]}, "legend": null}}},
{"data": {"name": "rings"}, "transform": [{"filter": "datum.p == 'c' && datum.lvl == 0"}, {"calculate": "datum.lvl + 30", "as": "rr"}, {"calculate": "0", "as": "zx"}],
"mark": {"type": "point", "shape": "M -1 0 A 1 0.9075 0 1 1 1 0 A 1 0.9075 0 1 1 -1 0 Z", "filled": false, "color": "black", "strokeWidth": 1.6, "opacity": 1},
"encoding": {"x": {"field": "zx", "type": "quantitative", "axis": null}, "y": {"field": "zx", "type": "quantitative"}, "size": {"field": "rr", "type": "quantitative", "legend": null}}},
{"data": {"name": "spokes"}, "transform": [{"calculate": "0", "as": "zx"}, {"calculate": "30*cos(datum.ang*PI/180)", "as": "ex"}, {"calculate": "30*sin(datum.ang*PI/180)", "as": "ey"}],
"mark": {"type": "rule", "color": "#3a3a3a", "strokeWidth": 1.3, "strokeDash": [1.3, 10]},
"encoding": {"x": {"field": "zx", "type": "quantitative", "axis": null}, "y": {"field": "zx", "type": "quantitative"}, "x2": {"field": "ex"}, "y2": {"field": "ey"}}},
{"data": {"name": "spokes"}, "transform": [{"calculate": "30.2*cos(datum.ang*PI/180)", "as": "ox"}, {"calculate": "30.2*sin(datum.ang*PI/180)", "as": "oy"}, {"calculate": "28.75*cos(datum.ang*PI/180)", "as": "ix"}, {"calculate": "28.75*sin(datum.ang*PI/180)", "as": "iy"}],
"mark": {"type": "rule", "color": "black", "strokeWidth": 1.3},
"encoding": {"x": {"field": "ox", "type": "quantitative", "axis": null}, "y": {"field": "oy", "type": "quantitative"}, "x2": {"field": "ix"}, "y2": {"field": "iy"}}},
{"data": {"name": "minor"}, "transform": [{"calculate": "30.1*cos(datum.ang*PI/180)", "as": "ox"}, {"calculate": "30.1*sin(datum.ang*PI/180)", "as": "oy"}, {"calculate": "29.3*cos(datum.ang*PI/180)", "as": "ix"}, {"calculate": "29.3*sin(datum.ang*PI/180)", "as": "iy"}],
"mark": {"type": "rule", "color": "black", "strokeWidth": 1.3},
"encoding": {"x": {"field": "ox", "type": "quantitative", "axis": null}, "y": {"field": "oy", "type": "quantitative"}, "x2": {"field": "ix"}, "y2": {"field": "iy"}}},
{"data": {"name": "spokes"}, "transform": [{"calculate": "datum.ang == 0 ? 31.2 : 32.5", "as": "lr"}, {"calculate": "datum.lr*cos(datum.ang*PI/180)", "as": "lx"}, {"calculate": "datum.lr*sin(datum.ang*PI/180)", "as": "ly"}],
"mark": {"type": "text", "font": "Liberation Serif", "fontSize": 19, "color": "black", "align": "center", "baseline": "middle"},
"encoding": {"x": {"field": "lx", "type": "quantitative", "axis": null}, "y": {"field": "ly", "type": "quantitative"}, "text": {"field": "ang", "type": "nominal"}}},
{"data": {"name": "rings"}, "transform": [{"filter": "datum.p == 'c' && datum.lvl == 0"}, {"calculate": "0", "as": "zx"}],
"mark": {"type": "circle", "color": "black", "size": 10, "opacity": 1},
"encoding": {"x": {"field": "zx", "type": "quantitative", "axis": null}, "y": {"field": "zx", "type": "quantitative"}}},
{"data": {"name": "curves"}, "transform": [{"filter": "datum.p == 'c' && datum.s == 'Simulated'"}, {"calculate": "max(0, datum.db + 30)", "as": "rr"}, {"calculate": "datum.rr*cos(datum.ang*PI/180)", "as": "cx"}, {"calculate": "datum.rr*sin(datum.ang*PI/180)", "as": "cy"}],
"mark": {"type": "line", "interpolate": "cardinal-closed", "strokeWidth": 1.5},
"encoding": {"x": {"field": "cx", "type": "quantitative", "axis": null}, "y": {"field": "cy", "type": "quantitative"}, "order": {"field": "ang", "type": "quantitative"},
"color": {"field": "s", "type": "nominal", "scale": {"domain": ["Simulated", "Measured"], "range": ["#000000", "#ee1d23"]},
"legend": {"orient": "none", "legendX": -66, "legendY": 455, "title": null, "symbolType": "stroke", "symbolSize": 1225, "symbolStrokeWidth": 1.5, "labelFont": "Liberation Serif", "labelFontSize": 20.5, "labelColor": "black", "labelOffset": 12, "rowPadding": -9}}}},
{"data": {"name": "curves"}, "transform": [{"filter": "datum.p == 'c' && datum.s == 'Measured'"}, {"calculate": "max(0, datum.db + 30)", "as": "rr"}, {"calculate": "datum.rr*cos(datum.ang*PI/180)", "as": "cx"}, {"calculate": "datum.rr*sin(datum.ang*PI/180)", "as": "cy"}],
"mark": {"type": "line", "interpolate": "linear-closed", "strokeWidth": 1.3},
"encoding": {"x": {"field": "cx", "type": "quantitative", "axis": null}, "y": {"field": "cy", "type": "quantitative"}, "order": {"field": "ang", "type": "quantitative"},
"color": {"field": "s", "type": "nominal"}}}
]},
{"width": 481, "height": 412,
"title": {"text": "(d)", "orient": "bottom", "anchor": "middle", "baseline": "middle", "offset": 27, "dx": -53},
"layer": [
{"data": {"name": "rings"}, "transform": [{"filter": "datum.p == 'd' && datum.lvl < 0"}, {"calculate": "datum.lvl + 50", "as": "rr"}, {"calculate": "0", "as": "zx"}],
"mark": {"type": "point", "shape": "M -1 0 A 1 0.8565 0 1 1 1 0 A 1 0.8565 0 1 1 -1 0 Z", "filled": false, "color": "#3a3a3a", "strokeWidth": 1.3, "strokeDash": [1.3, 10], "opacity": 1},
"encoding": {
"x": {"field": "zx", "type": "quantitative", "scale": {"domain": [-50, 50], "nice": false, "zero": false}, "axis": null},
"y": {"field": "zx", "type": "quantitative", "scale": {"domain": [-50, 50], "nice": false, "zero": false},
"axis": {"orient": "left", "offset": 63, "title": null, "grid": false, "values": [-50,-45,-40,-35,-30,-25,-20,-15,-10,-5,0,5,10,15,20,25,30,35,40,45,50],
"labelExpr": "datum.value % 10 == 0 ? format(abs(datum.value) - 50, 'd') : ''",
"tickSize": {"condition": {"test": "datum.value % 10 == 0", "value": 8}, "value": 4},
"domainColor": "black", "domainWidth": 1.3, "tickColor": "black", "tickWidth": 1.3, "labelFont": "Liberation Serif", "labelFontSize": 19, "labelColor": "black", "labelPadding": 4, "labelOverlap": false, "labelFlush": false}},
"size": {"field": "rr", "type": "quantitative", "scale": {"type": "pow", "exponent": 2, "domain": [0, 50], "range": [0, 231361]}, "legend": null}}},
{"data": {"name": "rings"}, "transform": [{"filter": "datum.p == 'd' && datum.lvl == 0"}, {"calculate": "datum.lvl + 50", "as": "rr"}, {"calculate": "0", "as": "zx"}],
"mark": {"type": "point", "shape": "M -1 0 A 1 0.8565 0 1 1 1 0 A 1 0.8565 0 1 1 -1 0 Z", "filled": false, "color": "black", "strokeWidth": 1.6, "opacity": 1},
"encoding": {"x": {"field": "zx", "type": "quantitative", "axis": null}, "y": {"field": "zx", "type": "quantitative"}, "size": {"field": "rr", "type": "quantitative", "legend": null}}},
{"data": {"name": "spokes"}, "transform": [{"calculate": "0", "as": "zx"}, {"calculate": "50*cos(datum.ang*PI/180)", "as": "ex"}, {"calculate": "50*sin(datum.ang*PI/180)", "as": "ey"}],
"mark": {"type": "rule", "color": "#3a3a3a", "strokeWidth": 1.3, "strokeDash": [1.3, 10]},
"encoding": {"x": {"field": "zx", "type": "quantitative", "axis": null}, "y": {"field": "zx", "type": "quantitative"}, "x2": {"field": "ex"}, "y2": {"field": "ey"}}},
{"data": {"name": "spokes"}, "transform": [{"calculate": "50.3*cos(datum.ang*PI/180)", "as": "ox"}, {"calculate": "50.3*sin(datum.ang*PI/180)", "as": "oy"}, {"calculate": "47.9*cos(datum.ang*PI/180)", "as": "ix"}, {"calculate": "47.9*sin(datum.ang*PI/180)", "as": "iy"}],
"mark": {"type": "rule", "color": "black", "strokeWidth": 1.3},
"encoding": {"x": {"field": "ox", "type": "quantitative", "axis": null}, "y": {"field": "oy", "type": "quantitative"}, "x2": {"field": "ix"}, "y2": {"field": "iy"}}},
{"data": {"name": "minor"}, "transform": [{"calculate": "50.2*cos(datum.ang*PI/180)", "as": "ox"}, {"calculate": "50.2*sin(datum.ang*PI/180)", "as": "oy"}, {"calculate": "48.8*cos(datum.ang*PI/180)", "as": "ix"}, {"calculate": "48.8*sin(datum.ang*PI/180)", "as": "iy"}],
"mark": {"type": "rule", "color": "black", "strokeWidth": 1.3},
"encoding": {"x": {"field": "ox", "type": "quantitative", "axis": null}, "y": {"field": "oy", "type": "quantitative"}, "x2": {"field": "ix"}, "y2": {"field": "iy"}}},
{"data": {"name": "spokes"}, "transform": [{"calculate": "datum.ang == 0 ? 51.8 : datum.ang == 90 ? 52.7 : 53.8", "as": "lr"}, {"calculate": "datum.lr*cos(datum.ang*PI/180)", "as": "lx"}, {"calculate": "datum.lr*sin(datum.ang*PI/180)", "as": "ly"}],
"mark": {"type": "text", "font": "Liberation Serif", "fontSize": 19, "color": "black", "align": "center", "baseline": "middle"},
"encoding": {"x": {"field": "lx", "type": "quantitative", "axis": null}, "y": {"field": "ly", "type": "quantitative"}, "text": {"field": "ang", "type": "nominal"}}},
{"data": {"name": "rings"}, "transform": [{"filter": "datum.p == 'd' && datum.lvl == 0"}, {"calculate": "0", "as": "zx"}],
"mark": {"type": "circle", "color": "black", "size": 10, "opacity": 1},
"encoding": {"x": {"field": "zx", "type": "quantitative", "axis": null}, "y": {"field": "zx", "type": "quantitative"}}},
{"data": {"name": "curves"}, "transform": [{"filter": "datum.p == 'd' && datum.s == 'Simulated'"}, {"calculate": "max(0, datum.db + 50)", "as": "rr"}, {"calculate": "datum.rr*cos(datum.ang*PI/180)", "as": "cx"}, {"calculate": "datum.rr*sin(datum.ang*PI/180)", "as": "cy"}],
"mark": {"type": "line", "interpolate": "cardinal-closed", "strokeWidth": 1.5},
"encoding": {"x": {"field": "cx", "type": "quantitative", "axis": null}, "y": {"field": "cy", "type": "quantitative"}, "order": {"field": "ang", "type": "quantitative"},
"color": {"field": "s", "type": "nominal", "scale": {"domain": ["Simulated", "Measured"], "range": ["#000000", "#ee1d23"]},
"legend": {"orient": "none", "legendX": -65, "legendY": 455, "title": null, "symbolType": "stroke", "symbolSize": 1225, "symbolStrokeWidth": 1.5, "labelFont": "Liberation Serif", "labelFontSize": 20.5, "labelColor": "black", "labelOffset": 12, "rowPadding": -9}}}},
{"data": {"name": "curves"}, "transform": [{"filter": "datum.p == 'd' && datum.s == 'Measured'"}, {"calculate": "max(0, datum.db + 50)", "as": "rr"}, {"calculate": "datum.rr*cos(datum.ang*PI/180)", "as": "cx"}, {"calculate": "datum.rr*sin(datum.ang*PI/180)", "as": "cy"}],
"mark": {"type": "line", "interpolate": "linear-closed", "strokeWidth": 1.3},
"encoding": {"x": {"field": "cx", "type": "quantitative", "axis": null}, "y": {"field": "cy", "type": "quantitative"}, "order": {"field": "ang", "type": "quantitative"},
"color": {"field": "s", "type": "nominal"}}}
]}
],
"config": {"view": {"stroke": null}, "font": "Liberation Serif", "title": {"font": "Liberation Serif", "fontSize": 19, "fontWeight": "normal", "color": "black"}}
}
